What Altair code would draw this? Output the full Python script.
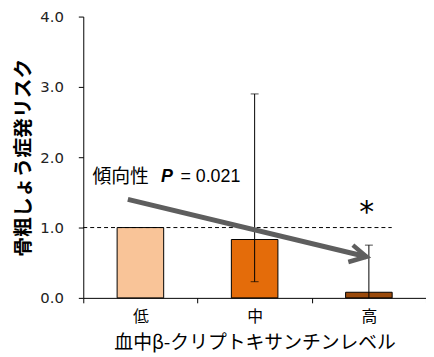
import altair as alt
import pandas as pd

cats = ["低", "中", "高"]
risk = [1.0, 0.83, 0.08]
colors = ["#F9C498", "#E46C0A", "#9A4A0C"]
err_lo = [None, 0.23, 0.0]
err_hi = [None, 2.9, 0.75]

# overlay annotations (x in band units 0..3, y in risk units)
arrow_x = [0.39, 2.48]
arrow_y = [1.40, 0.585]
head_x = [2.36, 2.48, 2.32]
head_y = [0.75, 0.585, 0.51]
ref_x = [0.0, 2.70]
ref_y = 1.0
star_x, star_y = 2.48, 1.28
ann_parts = ["傾向性", "P", "= 0.021"]
ann_x = [0.08, 0.68, 0.85]
ann_y = 1.72

JP = "Noto Sans CJK JP"

bars_df = pd.DataFrame({"cat": cats, "risk": risk})
err_df = pd.DataFrame({"cat": cats, "lo": err_lo, "hi": err_hi}).dropna()
caps_df = pd.DataFrame({"cat": ["中", "中", "高"], "v": [2.9, 0.23, 0.75]})

xaxis = alt.Axis(title="血中β-クリプトキサンチンレベル", labelAngle=0,
                 labelFont=JP, labelFontSize=16, labelColor="black",
                 labelBaseline="top",
                 titleFont=JP, titleFontSize=19, titleFontWeight="normal",
                 titleColor="black", labelPadding=6, titlePadding=9,
                 tickBand="extent", tickSize=5, tickColor="black",
                 domainColor="black")
yaxis = alt.Axis(title="骨粗しょう症発リスク", values=[0, 1, 2, 3, 4], format=".1f",
                 labelFont="DejaVu Sans", labelFontSize=15, labelColor="#222",
                 titleFont=JP, titleFontSize=20, titleFontWeight="bold",
                 titleColor="black", labelPadding=15, titlePadding=6,
                 tickSize=5, tickColor="black", domainColor="black", grid=False)
yscale = alt.Scale(domain=[0, 4], nice=False)
xband = alt.Scale(paddingInner=0, paddingOuter=0)

def X():
    return alt.X("cat:N", sort=cats, scale=xband, axis=xaxis)

bars = alt.Chart(bars_df).mark_bar(size=47, stroke="black", strokeWidth=1).encode(
    x=X(), y=alt.Y("risk:Q", scale=yscale, axis=yaxis),
    color=alt.Color("cat:N", scale=alt.Scale(domain=cats, range=colors), legend=None))
rules = alt.Chart(err_df).mark_rule(color="black", strokeWidth=1).encode(
    x=X(), y=alt.Y("lo:Q", scale=yscale, axis=yaxis), y2="hi:Q")
caps = alt.Chart(caps_df).mark_tick(color="black", thickness=1, size=8).encode(
    x=X(), y=alt.Y("v:Q", scale=yscale, axis=yaxis))

main = alt.layer(bars, rules, caps)

xq = alt.X("x:Q", scale=alt.Scale(domain=[0, 3], nice=False, zero=False), axis=None)
yq = lambda f: alt.Y(f, scale=yscale, axis=None)

ref = alt.Chart(pd.DataFrame({"x": [ref_x[0]], "x2": [ref_x[1]], "y": [ref_y]})).mark_rule(
    color="black", strokeWidth=1, strokeDash=[4, 3]).encode(x=xq, x2="x2:Q", y=yq("y:Q"))
shaft = alt.Chart(pd.DataFrame({"x": arrow_x, "y": arrow_y, "o": [0, 1]})).mark_line(
    color="#5E5E5E", strokeWidth=5).encode(x=xq, y=yq("y:Q"), order="o:Q")
head = alt.Chart(pd.DataFrame({"x": head_x, "y": head_y, "o": [0, 1, 2]})).mark_line(
    color="#5E5E5E", strokeWidth=4.5, strokeJoin="miter").encode(x=xq, y=yq("y:Q"), order="o:Q")
star = alt.Chart(pd.DataFrame({"x": [star_x], "y": [star_y], "t": ["*"]})).mark_text(
    fontSize=30, font="DejaVu Sans", color="black", baseline="middle", dy=5).encode(
    x=xq, y=yq("y:Q"), text="t:N")
t1 = alt.Chart(pd.DataFrame({"x": [ann_x[0]], "y": [ann_y], "t": [ann_parts[0]]})).mark_text(
    fontSize=19, font=JP, color="black", align="left", baseline="middle").encode(
    x=xq, y=yq("y:Q"), text="t:N")
t2 = alt.Chart(pd.DataFrame({"x": [ann_x[1]], "y": [ann_y], "t": [ann_parts[1]]})).mark_text(
    fontSize=18, font="Liberation Sans", fontWeight="bold", fontStyle="italic", color="black",
    align="left", baseline="middle").encode(x=xq, y=yq("y:Q"), text="t:N")
t3 = alt.Chart(pd.DataFrame({"x": [ann_x[2]], "y": [ann_y], "t": [ann_parts[2]]})).mark_text(
    fontSize=18, font="Liberation Sans", color="black", align="left", baseline="middle").encode(
    x=xq, y=yq("y:Q"), text="t:N")

overlay = alt.layer(ref, shaft, head, star, t1, t2, t3)

chart = alt.layer(main, overlay).resolve_scale(x="independent").resolve_axis(
    y="independent").properties(
    width=346, height=284,
    autosize=alt.AutoSizeParams(type="none"),
    padding={"left": 76, "top": 7, "right": 0, "bottom": 54},
).configure_view(stroke=None)

chart.save("out.html", embed_options={"renderer": "svg", "actions": False})
